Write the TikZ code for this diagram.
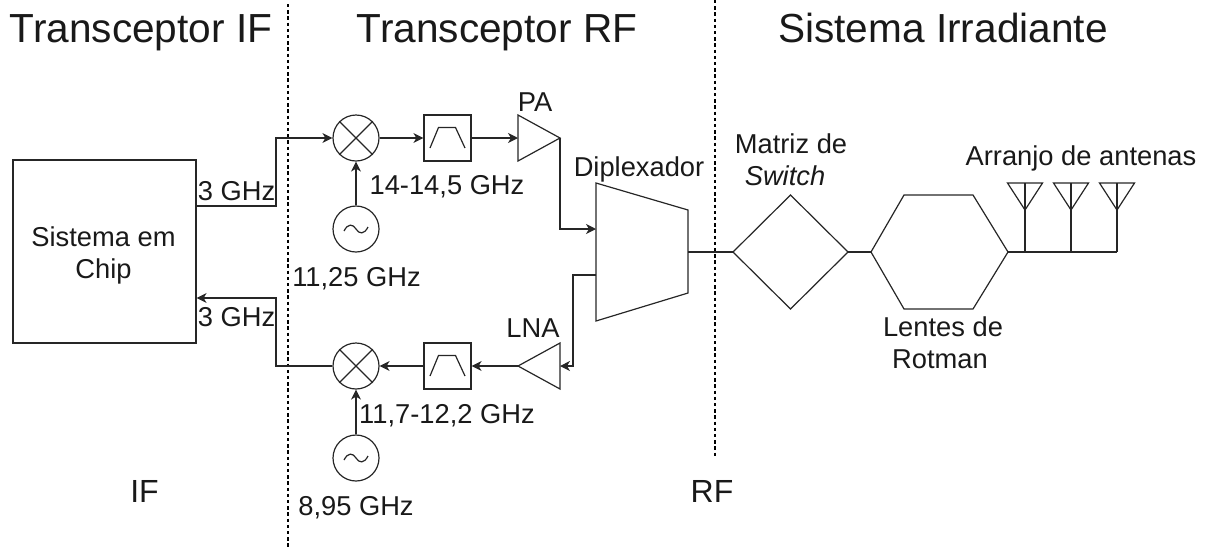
\documentclass[tikz,border=0pt]{standalone}
\usepackage{fontspec}
\setmainfont{Liberation Sans}
\usetikzlibrary{arrows.meta,calc}
\tikzset{
  ln/.style={line width=1.2pt,draw=black!85},
  arr/.style={ln,-{Stealth[length=10pt,width=10pt,inset=3pt]}},
  lbl/.style={inner sep=0pt,font=\fontsize{27.3}{27}\selectfont,text=black!90,anchor=base},
  big/.style={inner sep=0pt,font=\fontsize{32}{32}\selectfont,text=black!90,anchor=base},
  head/.style={inner sep=0pt,font=\fontsize{40.6}{40.6}\selectfont,text=black!90,anchor=base},
  round/.style={circle,ln,inner sep=0pt,minimum size=46pt},
  filterbox/.style={rectangle,ln,inner sep=0pt,minimum width=47pt,minimum height=46pt},
  ghost/.style={rectangle,inner sep=0pt,outer sep=0pt},
  divider/.style={line width=1.1pt,draw=black,dash pattern=on 3.4pt off 2.8pt},
}
\newcommand{\crossin}[1]{\draw[ln] (#1.north west) -- (#1.south east) (#1.north east) -- (#1.south west);}
\newcommand{\tildein}[1]{\draw[ln] ($(#1.center)+(-12,2)$) .. controls ($(#1.center)+(-8,-6)$) and ($(#1.center)+(-3,-5)$) .. (#1.center) .. controls ($(#1.center)+(3,5)$) and ($(#1.center)+(8,6)$) .. ($(#1.center)+(12,-2)$);}
\newcommand{\bandin}[1]{\draw[ln] ($(#1.center)+(-17.5,10)$) -- ($(#1.center)+(-9,-10.5)$) -- ($(#1.center)+(8,-10.5)$) -- ($(#1.center)+(17.5,10)$);}
\newcommand{\antenna}[1]{\draw[ln] (#1.north west) -- (#1.north east) -- (#1.south) -- cycle;}
\begin{document}
\begin{tikzpicture}[x=1pt,y=-1pt]
\useasboundingbox (0,0) rectangle (1206,547);
% dividers
\coordinate (da) at (288,4); \coordinate (db) at (288,547);
\coordinate (dc) at (715,0); \coordinate (dd) at (715,457);
\draw[divider] (da) -- (db);
\draw[divider] (dc) -- (dd);
% headings
\node[head] (h1) at (141,42) {Transceptor IF};
\node[head] (h2) at (497,42) {Transceptor RF};
\node[head] (h3) at (943,42) {Sistema Irradiante};
% SoC
\node[rectangle,ln,inner sep=0pt,minimum size=183pt] (soc) at (104.5,251.5) {};
% TX chain
\node[round] (mixa) at (356,138) {}; \crossin{mixa}
\node[round] (osca) at (356,229) {}; \tildein{osca}
\node[filterbox] (fila) at (447.5,138) {}; \bandin{fila}
\node[ghost,minimum width=42pt,minimum height=46pt] (pa) at (539,138) {};
\draw[ln] (pa.north west) -- (pa.east) -- (pa.south west) -- cycle;
% RX chain
\node[round] (mixb) at (356,366) {}; \crossin{mixb}
\node[round] (oscb) at (356,458) {}; \tildein{oscb}
\node[filterbox] (filb) at (447.5,366) {}; \bandin{filb}
\node[ghost,minimum width=42pt,minimum height=46pt] (lna) at (539,366) {};
\draw[ln] (lna.north east) -- (lna.west) -- (lna.south east) -- cycle;
% Diplexer
\node[ghost,minimum width=92pt,minimum height=138pt] (dip) at (642,252) {};
\draw[ln] (dip.north west) -- ($(dip.north east)+(0,27)$) -- ($(dip.south east)+(0,-28)$) -- (dip.south west) -- cycle;
\coordinate (dipin) at ($(dip.west)+(0,-23)$);
\coordinate (dipout) at ($(dip.west)+(0,23)$);
% Switch matrix
\node[ghost,minimum width=115pt,minimum height=114pt] (sw) at (790.5,252) {};
\draw[ln] (sw.west) -- (sw.north) -- (sw.east) -- (sw.south) -- cycle;
% Rotman lens
\node[ghost,minimum width=137pt,minimum height=114pt] (rot) at (939.5,252) {};
\draw[ln] (rot.west) -- ($(rot.north west)+(33,0)$) -- ($(rot.north east)+(-35,0)$) -- (rot.east) -- ($(rot.south east)+(-35,0)$) -- ($(rot.south west)+(33,0)$) -- cycle;
% Antennas
\node[ghost,minimum width=35pt,minimum height=27pt] (anta) at (1025,196.5) {}; \antenna{anta}
\node[ghost,minimum width=35pt,minimum height=27pt] (antb) at (1071,196.5) {}; \antenna{antb}
\node[ghost,minimum width=35pt,minimum height=27pt] (antc) at (1117,196.5) {}; \antenna{antc}
\coordinate (feedend) at (1117,252);
% connectors
\coordinate (socout) at ($(soc.east)+(0,-45.5)$);
\coordinate (socin) at ($(soc.east)+(0,46.5)$);
\draw[arr] (socout) -- (276,206) -- (276,138) -- (mixa.west);
\draw[arr] (mixa.east) -- (fila.west);
\draw[arr] (fila.east) -- (pa.west);
\draw[arr] (osca.north) -- (mixa.south);
\draw[arr] (pa.east) -- (pa.east |- dipin) -- (dipin);
\draw[arr] (dipout) -- (573,275) -- (573,366) -- (lna.east);
\draw[arr] (lna.west) -- (filb.east);
\draw[arr] (filb.west) -- (mixb.east);
\draw[arr] (oscb.north) -- (mixb.south);
\draw[arr] (mixb.west) -- (276,366) -- (276,298) -- (socin);
\draw[ln] (dip.east) -- (sw.west);
\draw[ln] (sw.east) -- (rot.west);
\draw[ln] (rot.east) -- (feedend);
\draw[ln] (anta.north) -- (anta.north |- feedend);
\draw[ln] (antb.north) -- (antb.north |- feedend);
\draw[ln] (antc.north) -- (feedend);
% labels
\node[lbl] (l17) at (103.5,246) {Sistema em};
\node[lbl] (l18) at (103.5,278) {Chip};
\node[lbl] (l1) at (236.5,200) {3 GHz};
\node[lbl] (l2) at (236.5,326) {3 GHz};
\node[lbl] (l3) at (535,111) {PA};
\node[lbl] (l4) at (447,194) {14-14,5 GHz};
\node[lbl] (l5) at (356.5,286) {11,25 GHz};
\node[lbl] (l6) at (447,423) {11,7-12,2 GHz};
\node[lbl] (l7) at (356,515) {8,95 GHz};
\node[big] (l8) at (144.5,502) {IF};
\node[big] (l9) at (712,502) {RF};
\node[lbl] (l10) at (533,337) {LNA};
\node[lbl] (l11) at (639,176) {Diplexador};
\node[lbl] (l12) at (791,153) {Matriz de};
\node[lbl] (l13) at (785,185) {\itshape Switch};
\node[lbl] (l14) at (1081,165) {Arranjo de antenas};
\node[lbl] (l15) at (943,336) {Lentes de};
\node[lbl] (l16) at (940,368) {Rotman};
\end{tikzpicture}
\end{document}
